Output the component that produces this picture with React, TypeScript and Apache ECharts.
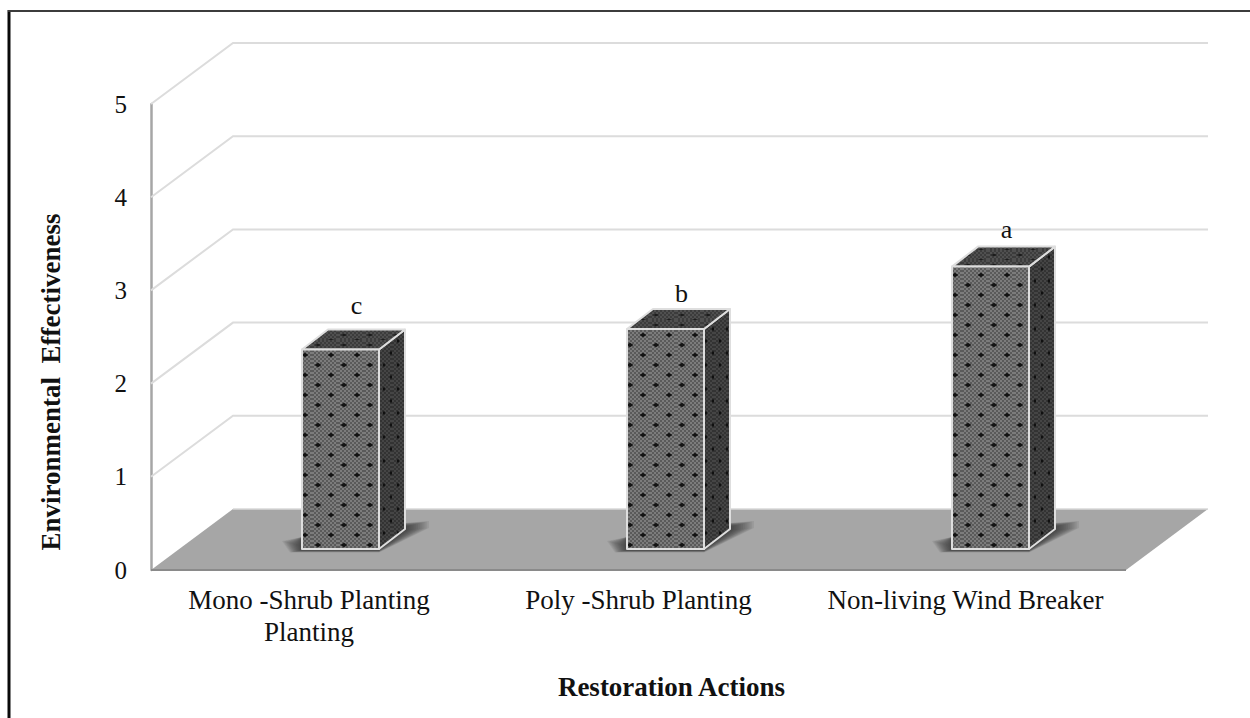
import React, { useEffect, useRef } from "react";
import * as echarts from "echarts";

const categories = ["Mono -Shrub Planting\nPlanting", "Poly -Shrub Planting", "Non-living Wind Breaker"];
const values = [2.14, 2.36, 3.03];
const significance = ["c", "b", "a"];
const levels = [1, 2, 3, 4, 5];

const SERIF = '"Liberation Serif", "Times New Roman", serif';
const DX = 82;
const DY = -61;
const BAR_W = 77;
const BAR_DX = 26;
const BAR_DY = -20;
const FLOOR_LIFT = -21;
const BAR_SHIFT = 27;
const LETTER_LIFT = [31, 23, 24];
const SHADOW_LAYERS = 14;
const LABEL_SIZE = 27;

function makeTile(base: string, light: string, dot: string, w: number, h: number, rx: number, ry: number) {
  const c = document.createElement("canvas");
  c.width = w;
  c.height = h;
  const g = c.getContext("2d")!;
  g.fillStyle = base;
  g.fillRect(0, 0, w, h);
  g.fillStyle = light;
  for (let y = 0; y < h; y += 2) for (let x = y % 4 === 0 ? 0 : 2; x < w; x += 4) g.fillRect(x, y, 2, 2);
  g.fillStyle = dot;
  const diamond = (x: number, y: number) => {
    g.beginPath();
    g.moveTo(x - rx, y);
    g.lineTo(x, y - ry);
    g.lineTo(x + rx, y);
    g.lineTo(x, y + ry);
    g.closePath();
    g.fill();
  };
  diamond(6, 5);
  diamond(w / 2 + 6, h / 2 + 5);
  return c;
}

export default function App() {
  const ref = useRef<HTMLDivElement>(null);
  useEffect(() => {
    const chart = echarts.init(ref.current!, undefined, { renderer: "svg" });
    const frontTile = { image: makeTile("#5a5a5a", "#7c7c7c", "#141414", 26, 20, 3.5, 2.2), repeat: "repeat", imageWidth: 26, imageHeight: 20 };
    const sideTile = { image: makeTile("#333333", "#454545", "#101010", 14, 24, 1.5, 2.2), repeat: "repeat", imageWidth: 14, imageHeight: 24 };
    const topTile = { image: makeTile("#3c3c3c", "#505050", "#1c1c1c", 26, 10, 3.5, 1.2), repeat: "repeat", imageWidth: 26, imageHeight: 10 };

    const labelBase = { fontFamily: SERIF, fontSize: LABEL_SIZE, color: "#111111", lineHeight: 32 };
    const option: any = {
      animation: false,
      backgroundColor: "#ffffff",
      grid: { left: 151, top: 104, width: 975, height: 466, containLabel: false },
      graphic: [
        {
          type: "line",
          silent: true,
          shape: { x1: 9, y1: 10, x2: 9, y2: 718 },
          style: { stroke: "#0a0a0a", lineWidth: 3 },
        },
        {
          type: "line",
          silent: true,
          shape: { x1: 8, y1: 11, x2: 1250, y2: 11 },
          style: { stroke: "#3c3c3c", lineWidth: 2 },
        },
      ],
      xAxis: {
        type: "category",
        data: categories,
        name: "Restoration Actions",
        nameLocation: "middle",
        nameGap: 103,
        nameTextStyle: { fontFamily: SERIF, fontSize: LABEL_SIZE, fontWeight: "bold", color: "#111111", padding: [0, 0, 0, 66] },
        axisLine: { show: false },
        axisTick: { show: false },
        splitLine: { show: false },
        axisLabel: {
          margin: 14,
          interval: 0,
          ...labelBase,
          formatter: (v: string, i: number) => {
            const style = i === 0 ? "l0" : i === 2 ? "l2" : "l1";
            return v
              .split("\n")
              .map((line) => `{${style}|${line}}`)
              .join("\n");
          },
          rich: {
            l0: { ...labelBase, padding: [0, 9, 0, 0] },
            l1: { ...labelBase },
            l2: { ...labelBase, padding: [0, 0, 0, 4] },
          },
        },
      },
      yAxis: {
        type: "value",
        min: 0,
        max: 5,
        interval: 1,
        name: "Environmental  Effectiveness",
        nameLocation: "middle",
        nameGap: 87,
        nameTextStyle: { fontFamily: SERIF, fontSize: LABEL_SIZE, fontWeight: "bold", color: "#111111", padding: [0, 90, 0, 0] },
        axisLine: { show: true, lineStyle: { color: "#a6a6a6", width: 2.5 } },
        axisTick: { show: false },
        splitLine: { show: false },
        axisLabel: { margin: 24, fontFamily: SERIF, fontSize: 25, color: "#111111" },
      },
      series: [
        {
          type: "custom",
          name: "Walls",
          silent: true,
          z: 1,
          clip: false,
          data: levels.map((l) => [0, l]),
          renderItem: (p: any, api: any) => {
            const y = api.coord([0, api.value(1)])[1];
            const left = p.coordSys.x;
            const right = left + p.coordSys.width;
            return {
              type: "polyline",
              shape: { points: [[left, y], [left + DX, y + DY], [right + DX, y + DY]] },
              style: { stroke: "#dcdcdc", lineWidth: 2, fill: "none" },
            };
          },
        },
        {
          type: "custom",
          name: "Floor",
          silent: true,
          z: 2,
          clip: false,
          data: [[0, 0]],
          renderItem: (p: any, api: any) => {
            const y = api.coord([0, 0])[1];
            const left = p.coordSys.x;
            const right = left + p.coordSys.width;
            return {
              type: "group",
              children: [
                {
                  type: "polygon",
                  shape: { points: [[left, y], [left + DX, y + DY], [right + DX, y + DY], [right, y]] },
                  style: { fill: "#a6a6a6" },
                },
                {
                  type: "line",
                  shape: { x1: left, y1: y, x2: right, y2: y },
                  style: { stroke: "#8a8a8a", lineWidth: 2 },
                },
                {
                  type: "line",
                  shape: { x1: left + DX, y1: y + DY, x2: right + DX, y2: y + DY },
                  style: { stroke: "#d9d9d9", lineWidth: 1.5 },
                },
              ],
            };
          },
        },
        {
          type: "custom",
          name: "Environmental Effectiveness",
          z: 3,
          clip: false,
          data: values.map((v, i) => [i, v]),
          renderItem: (_p: any, api: any) => {
            const i = api.value(0);
            const v = api.value(1);
            const base = api.coord([i, 0]);
            const top = api.coord([i, v]);
            const x0 = base[0] + BAR_SHIFT - BAR_W / 2;
            const x1 = x0 + BAR_W;
            const yb = base[1] + FLOOR_LIFT;
            const yt = top[1] + FLOOR_LIFT;
            const edge = { stroke: "#dedede", lineWidth: 2, lineJoin: "round" };
            const shadows = Array.from({ length: SHADOW_LAYERS }, (_, k) => {
              const t = (SHADOW_LAYERS - 1 - k) / (SHADOW_LAYERS - 1);
              return {
                type: "polygon",
                shape: {
                  points: [
                    [x0 - 20 * t, yb - 3 - 5 * t],
                    [x0 - 12 * t, yb + 1 + 2.5 * t],
                    [x1, yb + 1 + 2.5 * t],
                    [x1 + BAR_DX + 24 * t, yb + BAR_DY + 1 - 2 * t],
                    [x1 + BAR_DX + 24 * t, yb + BAR_DY - 2 - 6 * t],
                    [x1, yb - 24],
                    [x0, yb - 12],
                  ],
                },
                style: { fill: "rgba(30,30,30,0.075)" },
              };
            });
            return {
              type: "group",
              children: [
                ...shadows,
                {
                  type: "polygon",
                  shape: { points: [[x1, yt], [x1 + BAR_DX, yt + BAR_DY], [x1 + BAR_DX, yb + BAR_DY], [x1, yb]] },
                  style: { fill: sideTile, ...edge },
                },
                {
                  type: "polygon",
                  shape: { points: [[x0, yt], [x0 + BAR_DX, yt + BAR_DY], [x1 + BAR_DX, yt + BAR_DY], [x1, yt]] },
                  style: { fill: topTile, ...edge },
                },
                {
                  type: "rect",
                  shape: { x: x0, y: yt, width: BAR_W, height: yb - yt },
                  style: { fill: frontTile, ...edge },
                },
                {
                  type: "text",
                  style: {
                    text: significance[i],
                    x: x0 + BAR_W / 2 + 16,
                    y: yt - LETTER_LIFT[i],
                    align: "center",
                    verticalAlign: "bottom",
                    font: `${LABEL_SIZE - 1}px ${SERIF}`,
                    fill: "#111111",
                  },
                },
              ],
            };
          },
        },
      ],
    };
    chart.setOption(option);
    return () => chart.dispose();
  }, []);
  return <div ref={ref} style={{ position: "absolute", left: 0, top: 0, width: 1250, height: 718, overflow: "hidden" }} />;
}
